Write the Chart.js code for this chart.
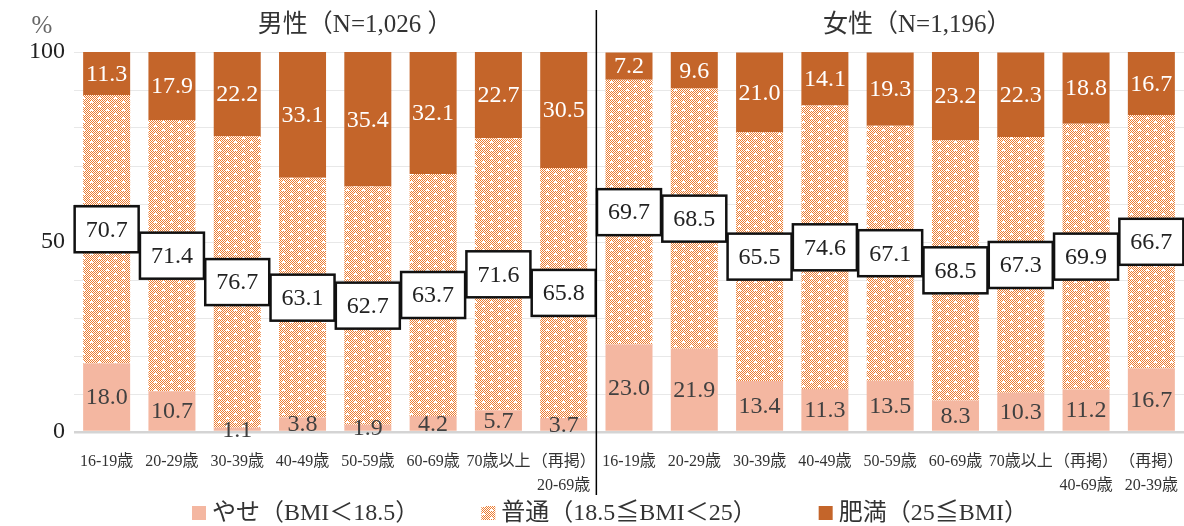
<!DOCTYPE html>
<html>
<head>
<meta charset="utf-8">
<script src="https://cdn.jsdelivr.net/npm/chart.js@4"></script>
<style>
  body { margin: 0; background: #fff; }
  #wrap { width: 1184px; height: 526px; position: relative; }
</style>
</head>
<body>
<div id="wrap"><canvas id="bmiChart"></canvas></div>
<script>
// categories
const maleLabels = ["16-19歳", "20-29歳", "30-39歳", "40-49歳", "50-59歳", "60-69歳", "70歳以上", ["（再掲）", "20-69歳"]];
const femaleLabels = ["16-19歳", "20-29歳", "30-39歳", "40-49歳", "50-59歳", "60-69歳", "70歳以上", ["（再掲）", "40-69歳"], ["（再掲）", "20-39歳"]];

// values (%)
const maleThin = [18.0, 10.7, 1.1, 3.8, 1.9, 4.2, 5.7, 3.7];
const maleNormal = [70.7, 71.4, 76.7, 63.1, 62.7, 63.7, 71.6, 65.8];
const maleObese = [11.3, 17.9, 22.2, 33.1, 35.4, 32.1, 22.7, 30.5];
const femaleThin = [23.0, 21.9, 13.4, 11.3, 13.5, 8.3, 10.3, 11.2, 16.7];
const femaleNormal = [69.7, 68.5, 65.5, 74.6, 67.1, 68.5, 67.3, 69.9, 66.7];
const femaleObese = [7.2, 9.6, 21.0, 14.1, 19.3, 23.2, 22.3, 18.8, 16.7];

const seriesNames = ["やせ（BMI＜18.5）", "普通（18.5≦BMI＜25）", "肥満（25≦BMI）"];
const groupTitles = ["男性（N=1,026 ）", "女性（N=1,196）"];
const yTicks = [0, 50, 100];

const FONT = "'Liberation Serif', 'Noto Sans CJK JP', serif";

// dotted pattern for 普通
function makePattern() {
  const c = document.createElement("canvas");
  c.width = 16; c.height = 8;
  const g = c.getContext("2d");
  g.fillStyle = "#ffffff";
  g.fillRect(0, 0, 16, 8);
  g.fillStyle = "#ed7d31";
  for (let y = 0; y < 8; y++) {
    for (let x = 0; x < 16; x++) {
      if ((x + y) % 2 === 0) g.fillRect(x, y, 1, 1);
    }
  }
  g.fillStyle = "#ffffff";
  g.fillRect(2, 1, 3, 2);
  g.fillRect(10, 5, 3, 2);
  return g.createPattern(c, "repeat");
}
const normalPattern = makePattern();

const labels = maleLabels.concat(femaleLabels);
const colors = ["#f4b7a1", normalPattern, "#c4652a"];

const bmiLabels = {
  id: "bmiLabels",
  afterDatasetsDraw(chart) {
    const ctx = chart.ctx;
    ctx.save();
    ctx.font = "24px " + FONT;
    ctx.textAlign = "center";
    ctx.textBaseline = "middle";
    chart.data.datasets.forEach((ds, i) => {
      const meta = chart.getDatasetMeta(i);
      meta.data.forEach((bar, j) => {
        const v = ds.data[j];
        const y = (bar.y + bar.base) / 2;
        const txt = v.toFixed(1);
        if (i === 1) {
          const w = 64, h = 46;
          ctx.fillStyle = "#fff";
          ctx.fillRect(bar.x - w / 2, y - h / 2, w, h);
          ctx.lineWidth = 2.5;
          ctx.strokeStyle = "#111";
          ctx.strokeRect(bar.x - w / 2, y - h / 2, w, h);
          ctx.fillStyle = "#222";
        } else if (i === 2) {
          ctx.fillStyle = "#fff";
        } else {
          ctx.fillStyle = "#404040";
        }
        ctx.fillText(txt, bar.x, y + 1);
      });
    });
    ctx.restore();
  }
};

const decor = {
  id: "decor",
  afterDraw(chart) {
    const ctx = chart.ctx;
    const xs = chart.scales.x;
    const area = chart.chartArea;
    const n = maleLabels.length;
    const divX = (xs.getPixelForValue(n - 1) + xs.getPixelForValue(n)) / 2;
    ctx.save();
    ctx.strokeStyle = "#000";
    ctx.lineWidth = 1.5;
    ctx.beginPath();
    ctx.moveTo(divX, 10);
    ctx.lineTo(divX, 495);
    ctx.stroke();

    ctx.fillStyle = "#333";
    ctx.font = "25px " + FONT;
    ctx.textAlign = "center";
    ctx.textBaseline = "middle";
    ctx.fillText(groupTitles[0], (area.left + divX) / 2 + 20, 25);
    ctx.fillText(groupTitles[1], (divX + area.right) / 2 + 27, 25);

    ctx.fillStyle = "#666";
    ctx.font = "25px " + FONT;
    ctx.fillText("%", 42, 26);

    // legend
    ctx.font = "24px " + FONT;
    ctx.textAlign = "left";
    const gap = 62, box = 14;
    const widths = chart.data.datasets.map(d => box + 6 + ctx.measureText(d.label).width);
    const total = widths.reduce((a, b) => a + b, 0) + gap * (widths.length - 1);
    let x = 610 - total / 2;
    const ly = 513;
    chart.data.datasets.forEach((d, i) => {
      ctx.fillStyle = d.backgroundColor;
      ctx.fillRect(x, ly - box / 2, box, box);
      ctx.fillStyle = "#333";
      ctx.fillText(d.label, x + box + 6, ly + 1);
      x += widths[i] + gap;
    });
    ctx.restore();
  }
};

new Chart(document.getElementById("bmiChart"), {
  type: "bar",
  data: {
    labels: labels,
    datasets: [
      { label: seriesNames[0], data: maleThin.concat(femaleThin), backgroundColor: colors[0] },
      { label: seriesNames[1], data: maleNormal.concat(femaleNormal), backgroundColor: colors[1] },
      { label: seriesNames[2], data: maleObese.concat(femaleObese), backgroundColor: colors[2] }
    ]
  },
  options: {
    responsive: true,
    maintainAspectRatio: false,
    animation: false,
    layout: { padding: { top: 52, right: -3, bottom: 0, left: 0 } },
    datasets: { bar: { categoryPercentage: 1, barPercentage: 0.72 } },
    plugins: {
      legend: { display: false },
      tooltip: { enabled: false }
    },
    scales: {
      x: {
        stacked: true,
        grid: { display: false },
        border: { display: false },
        ticks: {
          color: "#333",
          font: { family: FONT, size: 16, lineHeight: 1.55 },
          padding: 9,
          maxRotation: 0,
          autoSkip: false
        },
        afterFit(s) { s.height = 94; s.paddingLeft = 0; s.paddingRight = 0; }
      },
      y: {
        stacked: true,
        min: 0,
        max: 100,
        border: { display: false },
        grid: {
          color: ctx => ctx.tick.value === 0 ? "#d4d4d4" : "#e8e8e8",
          lineWidth: ctx => ctx.tick.value === 0 ? 2.5 : 1,
          drawTicks: false
        },
        ticks: {
          stepSize: 10,
          color: "#222",
          padding: 9,
          font: { family: FONT, size: 24 },
          callback: v => yTicks.includes(v) ? String(v) : ""
        },
        afterFit(s) { s.width = 74; s.paddingTop = 0; s.paddingBottom = 0; }
      }
    }
  },
  plugins: [bmiLabels, decor]
});
</script>
</body>
</html>
